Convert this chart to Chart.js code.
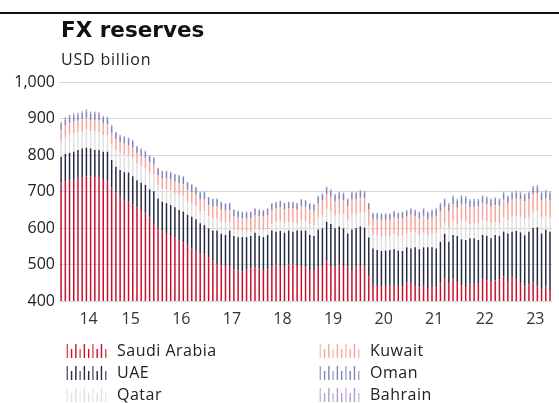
<!DOCTYPE html>
<html>
<head>
<meta charset="utf-8">
<title>FX reserves</title>
<script src="https://cdn.jsdelivr.net/npm/chart.js@4.4.0/dist/chart.umd.min.js"></script>
<style>
  body { margin: 0; background: #fff; font-family: "Open Sans", sans-serif; color: #222; }
  #wrap { position: relative; width: 559px; height: 403px; overflow: hidden; }
  #rule { position: absolute; left: 0; top: 12px; width: 559px; height: 2px; background: #111; }
  #title { position: absolute; left: 61px; top: 19px; font-family: "DejaVu Sans", sans-serif; font-size: 21.5px; font-weight: bold; line-height: 1; color: #111; }
  #sub { position: absolute; left: 61px; top: 51px; font-size: 16px; letter-spacing: 0.8px; line-height: 1; color: #222; }
  canvas#chart { position: absolute; left: 0; top: 0; }
  .item { position: absolute; font-size: 16px; letter-spacing: 0.5px; line-height: 1; white-space: nowrap; color: #222; }
  .item canvas { position: absolute; left: 0; top: 1px; }
  .item span { position: absolute; }
</style>
</head>
<body>
<div id="wrap">
  <canvas id="chart" width="559" height="403"></canvas>
  <div id="rule"></div>
  <div id="title">FX reserves</div>
  <div id="sub">USD billion</div>
  <div id="legend"></div>
</div>
<script>
// monthly central bank FX reserves, USD billion, Feb 2014 onwards
const startYear = 2014;
const startMonth = 2;
const yearLabels = ['14', '15', '16', '17', '18', '19', '20', '21', '22', '23'];

const saudi = [
  722, 727, 731, 734, 738, 739, 742, 741, 739, 739, 734, 730,
  711, 698, 684, 677, 672, 665, 657, 649, 642, 629, 611, 599,
  590, 584, 578, 575, 565, 560, 553, 544, 538, 531, 529, 520,
  510, 501, 499, 496, 496, 487, 483, 480, 487, 490, 492, 490,
  485, 487, 496, 499, 496, 496, 501, 501, 496, 496, 492, 485,
  483, 496, 496, 512, 496, 496, 501, 496, 494, 483, 494, 496,
  494, 467, 444, 442, 441, 441, 442, 444, 441, 441, 450, 447,
  444, 437, 444, 435, 441, 437, 450, 462, 447, 459, 450, 442,
  438, 447, 447, 447, 460, 456, 451, 456, 460, 468, 455, 465,
  458, 452, 440, 445, 450, 440, 432, 440, 430
];
const uae = [
  73, 76, 75, 75, 76, 79, 78, 77, 75, 75, 75, 79,
  75, 70, 75, 76, 80, 77, 74, 75, 76, 77, 90, 82,
  82, 84, 85, 82, 84, 85, 83, 87, 86, 82, 79, 79,
  83, 92, 85, 85, 97, 91, 92, 95, 88, 88, 95, 88,
  90, 94, 97, 91, 96, 91, 92, 89, 97, 97, 101, 96,
  95, 100, 103, 105, 115, 103, 103, 103, 91, 113, 105, 108,
  107, 107, 100, 98, 96, 97, 98, 98, 97, 96, 97, 97,
  103, 105, 103, 112, 106, 107, 112, 122, 115, 122, 128, 127,
  129, 125, 125, 120, 121, 122, 121, 125, 118, 122, 130, 125,
  134, 136, 140, 145, 150, 162, 153, 155, 160
];
const qatar = [
  42.5, 45.4, 49.2, 50, 48, 47.9, 49.8, 47, 50.2, 48.5, 46, 45.1,
  44.5, 45, 45.2, 48.4, 46.5, 49.7, 44.8, 45, 45, 45.2, 45, 36.5,
  35.6, 38.7, 39.7, 38.8, 42.8, 42.9, 37.8, 35.8, 35.9, 33.9, 37.9, 32.8,
  33.8, 33.8, 33.8, 34, 22.1, 19.1, 18.1, 15.1, 15, 12, 11.9, 17.8,
  17.8, 15.9, 18, 25.1, 26.2, 25.2, 22.3, 25.2, 19.1, 29, 25.9, 29.8,
  29.5, 33.2, 36, 35.7, 34.5, 34.4, 35.3, 38.2, 36.2, 43.1, 40.1, 40,
  41, 33.8, 35.2, 38.5, 38.6, 37.7, 36.7, 41.6, 40.5, 42.4, 37.3, 44.2,
  40, 37.8, 40.5, 32.3, 37, 41.8, 37.7, 29.5, 38.4, 38.5, 31.5, 49.4,
  51.5, 38.6, 39.6, 44.7, 39.6, 39.5, 40.5, 34.4, 34.4, 39.3, 35.3, 40.2,
  40.2, 42.1, 45.1, 40, 45, 44.9, 43.9, 38.8, 38.8
];
const kuwait = [
  32, 33, 33, 33, 32, 32, 32, 31, 32, 32, 31, 30,
  30, 30, 30, 30, 29, 29, 29, 29, 29, 29, 28, 28,
  29, 30, 30, 31, 31, 32, 31, 31, 31, 31, 32, 31,
  32, 33, 33, 33, 34, 35, 35, 36, 36, 36, 37, 37,
  38, 38, 38, 38, 38, 38, 38, 38, 38, 38, 39, 39,
  39, 39, 40, 40, 40, 39, 39, 39, 39, 39, 39, 39,
  39, 42, 44, 45, 46, 46, 46, 46, 47, 48, 47, 48,
  46, 46, 46, 45, 45, 46, 46, 44, 45, 46, 46, 47,
  47, 46, 46, 47, 47, 47, 47, 47, 47, 48, 48, 48,
  48, 48, 48, 48, 48, 48, 48, 48, 48
];
const oman = [
  16, 16, 16, 16, 16, 16, 17, 17, 17, 17, 16, 16,
  17, 17, 17, 17, 17, 17, 17, 17, 17, 17, 17, 17,
  18, 18, 19, 19, 20, 20, 20, 20, 20, 20, 20, 20,
  20, 19, 19, 18, 18, 17, 17, 17, 17, 17, 16, 16,
  16, 17, 17, 17, 17, 17, 17, 17, 17, 17, 17, 16,
  17, 17, 17, 17, 17, 17, 17, 17, 17, 17, 17, 17,
  17, 16, 16, 16, 16, 16, 15, 15, 15, 15, 15, 15,
  15, 16, 17, 17, 18, 18, 19, 19, 19, 19, 19, 20,
  18, 18, 18, 17, 17, 17, 17, 17, 17, 17, 17, 17,
  17, 17, 17, 17, 17, 18, 18, 18, 18
];
const bahrain = [
  5.5, 5.6, 5.8, 6.0, 6.0, 6.1, 6.2, 6.0, 5.8, 5.5, 5.0, 4.9,
  4.5, 4.0, 3.8, 3.6, 3.5, 3.3, 3.2, 3.0, 3.0, 2.8, 2.6, 2.5,
  2.4, 2.3, 2.3, 2.2, 2.2, 2.1, 2.2, 2.2, 2.1, 2.1, 2.1, 2.2,
  2.2, 2.2, 2.2, 2.0, 1.9, 1.9, 1.9, 1.9, 2.0, 2.0, 2.1, 2.2,
  2.2, 2.1, 2.0, 1.9, 1.8, 1.8, 1.7, 1.8, 1.9, 2.0, 2.1, 2.2,
  2.5, 2.8, 3.0, 3.3, 3.5, 3.6, 3.7, 3.8, 3.8, 3.9, 3.9, 4.0,
  4.0, 3.2, 2.8, 2.5, 2.4, 2.3, 2.3, 2.4, 2.5, 2.6, 2.7, 2.8,
  3.0, 3.2, 3.5, 3.7, 4.0, 4.2, 4.3, 4.5, 4.6, 4.5, 4.5, 4.6,
  4.5, 4.4, 4.4, 4.3, 4.4, 4.5, 4.5, 4.6, 4.6, 4.7, 4.7, 4.8,
  4.8, 4.9, 4.9, 5.0, 5.0, 5.1, 5.1, 5.2, 5.2
];

const series = [
  { name: 'Saudi Arabia', data: saudi, color: '#c8102e' },
  { name: 'UAE', data: uae, color: '#262a40' },
  { name: 'Qatar', data: qatar, color: '#e0e0e0' },
  { name: 'Kuwait', data: kuwait, color: '#f6a8a0' },
  { name: 'Oman', data: oman, color: '#7c85b6' },
  { name: 'Bahrain', data: bahrain, color: '#b39dd0' }
];

// month categories
const months = saudi.map(function (v, i) {
  const m = (startMonth - 1 + i) % 12;
  const y = startYear + Math.floor((startMonth - 1 + i) / 12);
  return y + '-' + String(m + 1).padStart(2, '0');
});

// year label sits mid-year; 2014 is partial so it goes a bit later
function yearTick(i) {
  const m = (startMonth - 1 + i) % 12;
  const y = startYear + Math.floor((startMonth - 1 + i) / 12);
  const idx = y - startYear;
  if (idx === 0) return m === 8 ? yearLabels[0] : '';
  return m === 6 && idx < yearLabels.length ? yearLabels[idx] : '';
}

const tickFont = { family: 'Open Sans', size: 16 };

const ctx = document.getElementById('chart').getContext('2d');
new Chart(ctx, {
  type: 'bar',
  data: {
    labels: months,
    datasets: series.map(function (s) {
      return {
        label: s.name,
        data: s.data,
        backgroundColor: s.color,
        borderWidth: 0,
        inflateAmount: 0,
        barThickness: 1.5
      };
    })
  },
  options: {
    responsive: false,
    animation: false,
    devicePixelRatio: 1,
    layout: { padding: { top: 82, right: 0, bottom: 74, left: 0 } },
    plugins: { legend: { display: false }, tooltip: { enabled: false } },
    scales: {
      x: {
        stacked: true,
        afterFit: function (scale) { scale.height = 28; },
        grid: { display: false, drawTicks: false },
        border: { display: false },
        ticks: {
          autoSkip: false,
          maxRotation: 0,
          padding: 9,
          labelOffset: -2,
          color: '#333',
          font: tickFont,
          callback: function (v, i) { return yearTick(i); }
        }
      },
      y: {
        stacked: true,
        min: 400,
        max: 1000,
        afterFit: function (scale) { scale.width = 59; },
        grid: { color: '#d8d8d8', drawTicks: false },
        border: { display: false },
        ticks: {
          stepSize: 100,
          padding: 4,
          color: '#222',
          font: tickFont
        }
      }
    }
  }
});

// legend: two columns of little bar-pattern swatches
const legendPos = [
  { x: 66, y: 342 }, { x: 66, y: 364 }, { x: 66, y: 386 },
  { x: 319, y: 342 }, { x: 319, y: 364 }, { x: 319, y: 386 }
];
const legend = document.getElementById('legend');
series.forEach(function (s, j) {
  const item = document.createElement('div');
  item.className = 'item';
  item.style.left = legendPos[j].x + 'px';
  item.style.top = legendPos[j].y + 'px';
  const c = document.createElement('canvas');
  c.width = 43; c.height = 15;
  const g = c.getContext('2d');
  g.fillStyle = s.color;
  for (let b = 0; b < 10; b++) {
    const h = b % 2 === 0 ? 14 : 9;
    g.globalAlpha = b % 3 === 0 ? 0.75 : 1;
    g.fillRect(0.6 + b * 4.27, 15 - h, 1.4, h);
  }
  item.appendChild(c);
  const t = document.createElement('span');
  t.textContent = s.name;
  t.style.left = '51px';
  t.style.top = '0px';
  item.appendChild(t);
  legend.appendChild(item);
});
</script>
</body>
</html>
